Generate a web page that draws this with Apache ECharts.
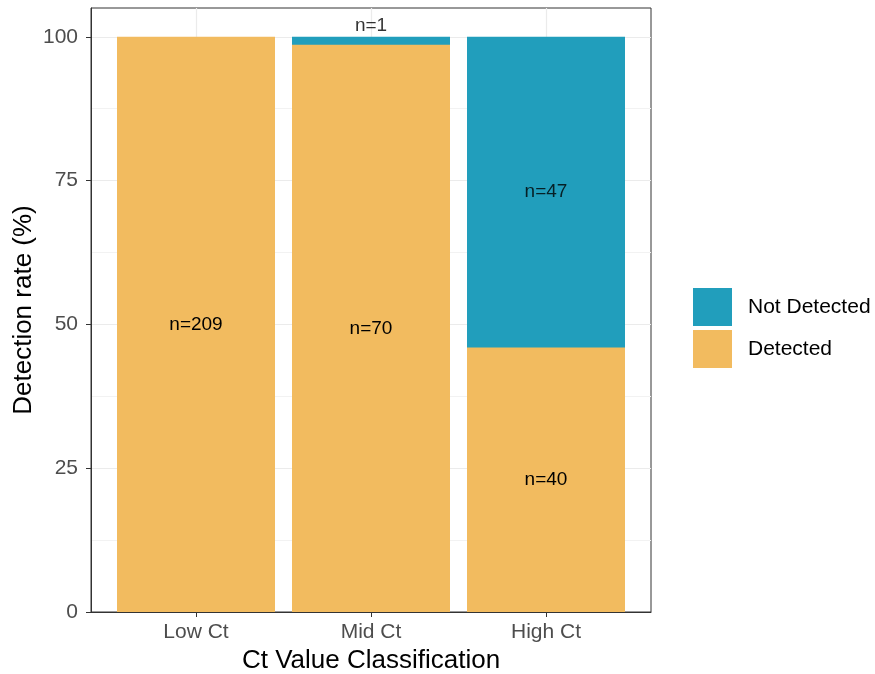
<!DOCTYPE html>
<html><head><meta charset="utf-8">
<script src="https://cdn.jsdelivr.net/npm/echarts@6/dist/echarts.min.js"></script>
<style>html,body{margin:0;padding:0;background:#fff}#chart{width:875px;height:674px}</style>
</head><body><div id="chart"></div>
<script>
const categories = ['Low Ct', 'Mid Ct', 'High Ct'];
const xPositions = [1, 2, 3];
const detectedN = [209, 70, 40];
const notDetectedN = [0, 1, 47];
const yTicks = [0, 25, 50, 75, 100];
const yMinorGrid = [12.5, 37.5, 62.5, 87.5];

const FONT = "'Liberation Sans', Arial, sans-serif";
const C_DET = '#F2BB5F';
const C_NOT = '#219EBC';

const totals = detectedN.map((d, i) => d + notDetectedN[i]);
const detPct = detectedN.map((d, i) => d / totals[i] * 100);
const notPct = notDetectedN.map((n, i) => n / totals[i] * 100);

const notLabelData = [];
xPositions.forEach((x, i) => {
  if (notDetectedN[i] > 0) {
    const small = notPct[i] < 5;
    const y = small ? detPct[i] + notPct[i] : detPct[i] + notPct[i] / 2;
    notLabelData.push({
      value: [x, y],
      n: notDetectedN[i],
      label: small ? { position: 'top', distance: 1 } : { position: 'inside' }
    });
  }
});

const chart = echarts.init(document.getElementById('chart'), null, { renderer: 'canvas' });
chart.setOption({
  animation: false,
  backgroundColor: '#fff',
  textStyle: { fontFamily: FONT },
  grid: {
    left: 91, top: 8, right: 224, bottom: 62,
    show: true, borderColor: '#333333', borderWidth: 1, backgroundColor: 'transparent',
    containLabel: false, outerBoundsMode: 'none'
  },
  legend: {
    data: ['Not Detected', 'Detected'],
    orient: 'vertical',
    left: 693, top: 288, padding: 0,
    itemWidth: 39, itemHeight: 38, itemGap: 4,
    icon: 'rect',
    textStyle: { fontSize: 21, color: '#000', fontFamily: FONT, padding: [0, 0, 0, 11] }
  },
  xAxis: {
    type: 'value', min: 0.4, max: 3.6,
    name: 'Ct Value Classification', nameLocation: 'middle', nameGap: 34,
    nameTextStyle: { fontSize: 26, color: '#000', fontFamily: FONT },
    axisLine: { show: true, onZero: false, lineStyle: { color: '#333333', width: 1 } },
    axisTick: { show: true, length: 5, customValues: xPositions, lineStyle: { color: '#333333' } },
    axisLabel: {
      customValues: xPositions, margin: 10, fontSize: 21, color: '#4D4D4D', fontFamily: FONT,
      formatter: v => categories[xPositions.indexOf(Math.round(v))] || ''
    },
    splitLine: { show: true, lineStyle: { color: '#EBEBEB', width: 1.2 } }
  },
  yAxis: [{
    type: 'value', min: 0, max: 105,
    name: 'Detection rate (%)', nameLocation: 'middle', nameGap: 54, nameMoveOverlap: false,
    nameTextStyle: { fontSize: 26, color: '#000', fontFamily: FONT },
    axisLine: { show: true, onZero: false, lineStyle: { color: '#333333', width: 1 } },
    axisTick: { show: true, length: 5, customValues: yTicks, lineStyle: { color: '#333333' } },
    axisLabel: { customValues: yTicks, margin: 13, fontSize: 21, color: '#4D4D4D', fontFamily: FONT },
    splitLine: { show: true, lineStyle: { color: '#EBEBEB', width: 1.2 } }
  }, {
    type: 'value', min: 0, max: 105, position: 'right',
    axisLine: { show: false, onZero: false },
    axisTick: { show: false, customValues: yMinorGrid },
    axisLabel: { show: false, customValues: yMinorGrid },
    splitLine: { show: true, lineStyle: { color: '#F2F2F2', width: 1 } }
  }],
  series: [{
    name: 'Not Detected', type: 'bar',
    barWidth: 158, barGap: '-100%',
    itemStyle: { color: C_NOT },
    data: xPositions.map((x, i) => notDetectedN[i] > 0 ? [x, detPct[i] + notPct[i]] : [x, '-']),
    label: { show: false }
  }, {
    name: 'Detected', type: 'bar',
    barWidth: 158, barGap: '-100%',
    itemStyle: { color: C_DET },
    data: xPositions.map((x, i) => [x, detPct[i]]),
    label: {
      show: true, position: 'inside', fontSize: 19, color: '#000', fontFamily: FONT,
      formatter: p => 'n=' + detectedN[p.dataIndex]
    }
  }, {
    name: 'notLabels', type: 'scatter',
    symbolSize: 1, itemStyle: { color: 'rgba(0,0,0,0)' },
    silent: true, z: 5,
    data: notLabelData,
    label: {
      show: true, fontSize: 19, color: '#000', fontFamily: FONT,
      formatter: p => 'n=' + p.data.n
    }
  }]
});
</script>
</body></html>
